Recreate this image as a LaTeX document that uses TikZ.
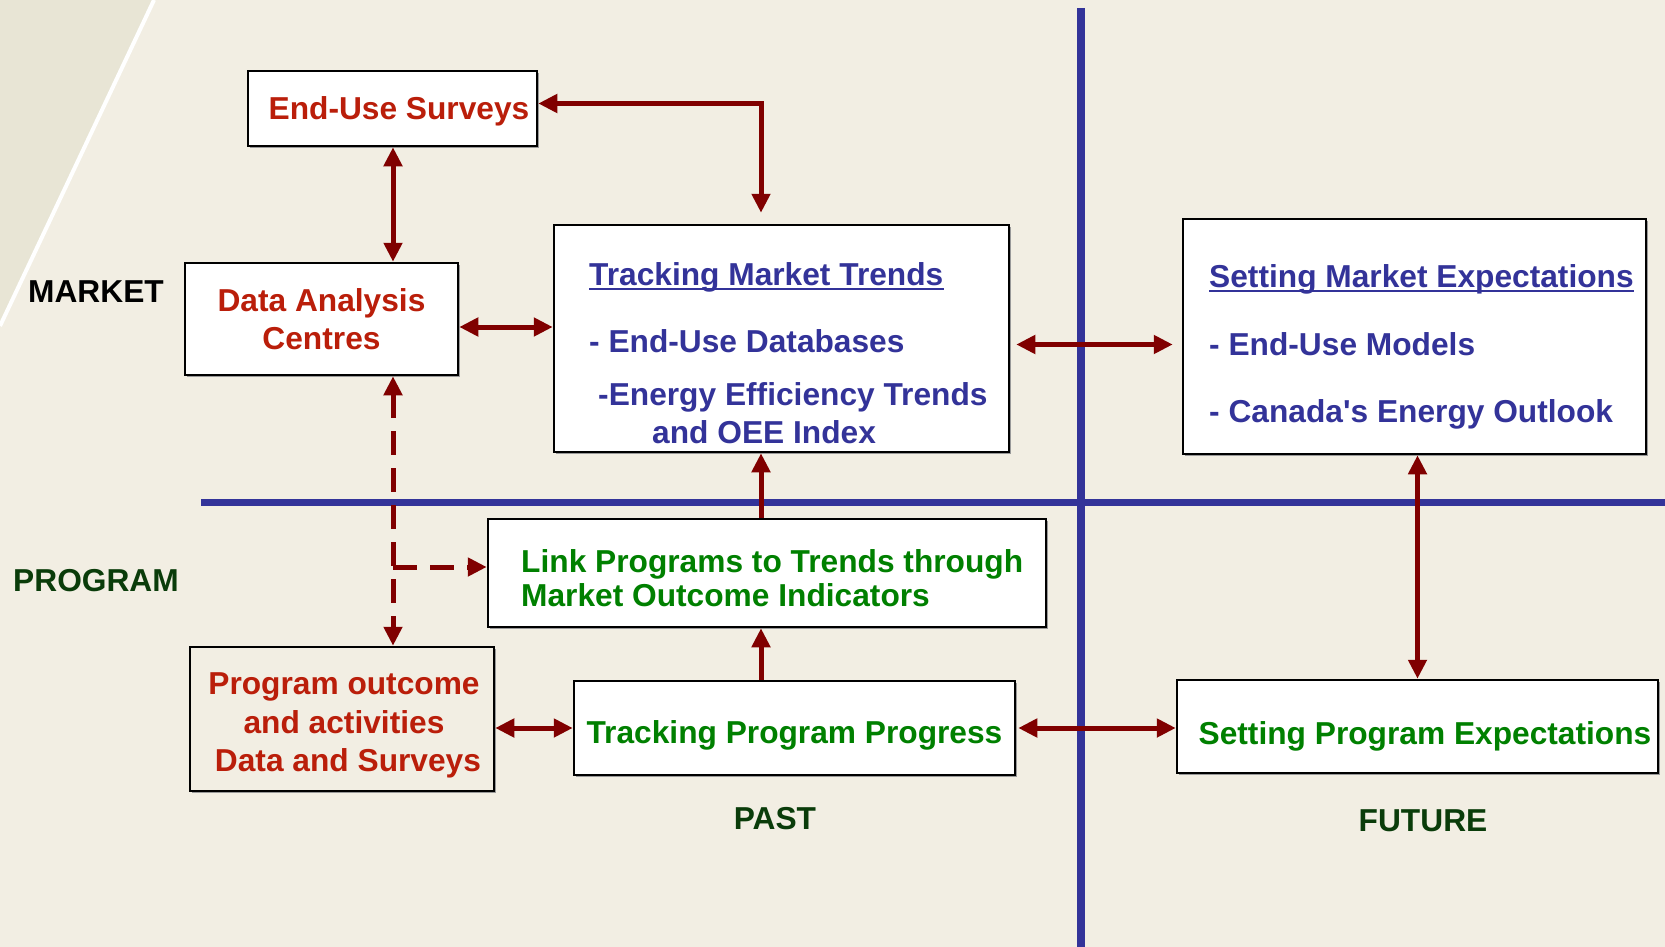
\documentclass[tikz,border=0pt]{standalone}
\usepackage{fontspec}
\setmainfont{Liberation Sans}
\usetikzlibrary{arrows.meta,shadows}

\definecolor{paper}{RGB}{242,238,227}
\definecolor{paperdark}{RGB}{232,229,213}
\definecolor{axisblue}{RGB}{51,51,153}
\definecolor{textblue}{RGB}{51,51,153}
\definecolor{arrowred}{RGB}{128,0,0}
\definecolor{boxred}{RGB}{186,30,10}
\definecolor{boxgreen}{RGB}{0,128,0}
\definecolor{labelgreen}{RGB}{10,60,10}

\tikzset{box/.style = {draw = black, line width = 2.5pt, fill = white, inner sep = 0pt, align = center,
    drop shadow = {shadow xshift = 2pt, shadow yshift = -2pt, fill = black!40, opacity = 1}}}
\tikzset{txt/.style = {inner sep = 0pt, font = \fontsize{31.7}{38}\selectfont\bfseries}}
\tikzset{edge/.style = {<->, > = {Triangle[length = 19pt, width = 18pt]}, line width = 5pt, arrowred}}
\tikzset{dashededge/.style = {edge, dash pattern = on 24pt off 13pt}}

\begin{document}
\begin{tikzpicture}[x = 1pt, y = -1pt]
	\useasboundingbox (0, 0) rectangle (1665, 947);
	\fill[paper] (0, 0) rectangle (1665, 947);
	\fill[paperdark] (0, 0) -- (154, 0) -- (0, 326) -- cycle;
	\draw[white, line width = 4pt] (154, 0) -- (0, 326);

	% axes: past / future and market / program
	\draw[axisblue, line width = 8pt] (1081, 8) -- (1081, 947);
	\draw[axisblue, line width = 7pt] (201, 502) -- (1665, 502);

	\node[txt] (market) at (96, 292) {MARKET};
	\node[txt, labelgreen] (program) at (96, 581) {PROGRAM};
	\node[txt, labelgreen] (past) at (775, 819) {PAST};
	\node[txt, labelgreen] (future) at (1423, 821) {FUTURE};

	\node[box, txt, text = boxred, text depth = 0pt, minimum width = 289pt, minimum height = 75pt] (surveys) at (392.5, 108.5)
		{\hspace*{13pt}End-Use Surveys};
	\node[box, txt, text = boxred, minimum width = 273pt, minimum height = 112pt] (dac) at (321.5, 319) {Data Analysis\\Centres};
	\node[box, minimum width = 455pt, minimum height = 227pt] (tmt) at (781.5, 338.5) {};
	\node[box, minimum width = 463pt, minimum height = 235pt] (sme) at (1414.5, 336.5) {};
	\node[box, minimum width = 558pt, minimum height = 108pt] (link) at (767, 573) {};
	\node[box, fill = paper, minimum width = 304pt, minimum height = 144pt] (pod) at (342, 719) {};
	\node[box, txt, text = boxgreen, text height = 30pt, text depth = 0pt, minimum width = 441pt, minimum height = 94pt] (tpp) at (794.5, 728)
		{Tracking Program Progress};
	\node[box, txt, text = boxgreen, text height = 36pt, text depth = 0pt, minimum width = 481pt, minimum height = 93pt] (spe) at (1417.5, 726.5)
		{\hspace*{15pt}Setting Program Expectations};

	% box contents set apart from the frames
	\node[txt, text = boxgreen, align = left, font = \fontsize{31.7}{34}\selectfont\bfseries, anchor = north west] (linktext) at (521, 549)
		{Link Programs to Trends through\\Market Outcome Indicators};
	\node[txt, text = boxred, align = center, font = \fontsize{31.7}{38.5}\selectfont\bfseries] (podtext) at (344, 725.5)
		{Program outcome\\and activities\\\hspace*{8pt}Data and Surveys};

	\node[txt, text = textblue, anchor = base west] (tmthead) at (589, 285) {Tracking Market Trends};
	\draw[textblue, line width = 2.5pt] ([yshift = -4pt]tmthead.base west) -- ([yshift = -4pt]tmthead.base east);
	\node[txt, text = textblue, anchor = base west] (tmtdb) at (589, 352) {- End-Use Databases};
	\node[txt, text = textblue, anchor = base west] (tmteff) at (598, 405) {-Energy Efficiency Trends};
	\node[txt, text = textblue, anchor = base west] (tmtoee) at (652, 443) {and OEE Index};

	\node[txt, text = textblue, anchor = base west] (smehead) at (1209, 287) {Setting Market Expectations};
	\draw[textblue, line width = 2.5pt] ([yshift = -4pt]smehead.base west) -- ([yshift = -4pt]smehead.base east);
	\node[txt, text = textblue, anchor = base west] (smemod) at (1209, 355) {- End-Use Models};
	\node[txt, text = textblue, anchor = base west] (smeout) at (1209, 422) {- Canada\textquotesingle s Energy Outlook};

	\coordinate (trunk) at (761, 502);
	\coordinate (spine) at (393, 567);

	\draw[edge, shorten >= 11pt] ([yshift = 5pt]surveys.east) -| (trunk |- tmt.north);
	\draw[edge] (spine |- surveys.south) -- (spine |- dac.north);
	\draw[edge] ([yshift = -8pt]dac.east) -- ([yshift = -8pt]dac.east -| tmt.west);
	\draw[edge, shorten <= 6pt, shorten >= 9pt] ([yshift = -6pt]tmt.east) -- ([yshift = -6pt]tmt.east -| sme.west);
	\draw[edge, ->] (trunk |- link.north) -- (trunk |- tmt.south);
	\draw[edge, ->] (trunk |- tpp.north) -- (trunk |- link.south);
	\draw[edge] (pod.east |- tpp.west) -- (tpp.west);
	\draw[edge, shorten <= 2pt] (tpp.east) -- (tpp.east -| spe.west);
	\draw[edge] (sme.south -| spe.north) -- (spe.north);
	\draw[dashededge] (spine |- dac.south) -- (spine |- pod.north);
	\draw[dashededge, ->] (spine) -- (spine -| link.west);
\end{tikzpicture}
\end{document}
